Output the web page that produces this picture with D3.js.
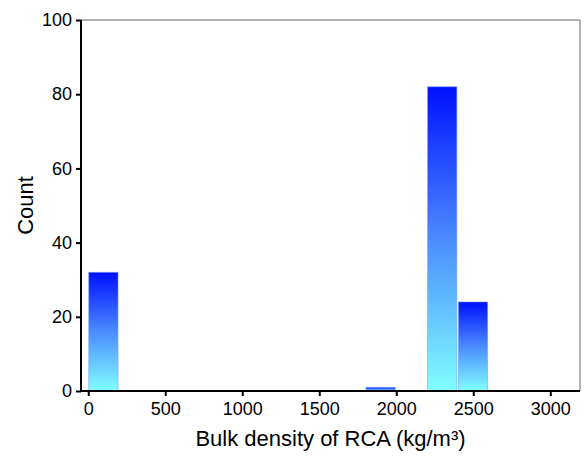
<!DOCTYPE html>
<html>
<head>
<meta charset="utf-8">
<script src="https://cdn.jsdelivr.net/npm/d3@7"></script>
<style>
  html, body { margin: 0; padding: 0; background: #fff; }
  svg { display: block; }
  text { font-family: "Liberation Sans", Arial, sans-serif; fill: #000; }
</style>
</head>
<body>
<svg id="chart" width="584" height="457"></svg>
<script>
// Histogram bins (kg/m³) and counts
const binStarts = [0, 1800, 2200, 2400];
const binEnds   = [200, 2000, 2400, 2600];
const counts    = [32, 1, 82, 24];

const xTicks = [0, 500, 1000, 1500, 2000, 2500, 3000];
const yTicks = [0, 20, 40, 60, 80, 100];

const svg = d3.select("#chart");
const margin = { left: 81, right: 4, top: 20, bottom: 66 };
const W = 584, H = 457;

const x = d3.scaleLinear().domain([-47, 3193]).range([margin.left, W - margin.right]);
const y = d3.scaleLinear().domain([0, 100]).range([H - margin.bottom, margin.top]);

const defs = svg.append("defs");
const grad = defs.append("linearGradient")
  .attr("id", "barFill")
  .attr("x1", 0).attr("y1", 0).attr("x2", 0).attr("y2", 1);
grad.append("stop").attr("offset", "0%").attr("stop-color", "#0010ff");
grad.append("stop").attr("offset", "50%").attr("stop-color", "#4a8cff");
grad.append("stop").attr("offset", "100%").attr("stop-color", "#80ffff");

// Frame: thin top/right borders
svg.append("path")
  .attr("d", `M${margin.left},${margin.top}H${W - margin.right}V${H - margin.bottom}`)
  .attr("fill", "none").attr("stroke", "#666").attr("stroke-width", 1);

// Bars
const bars = binStarts.map((s, i) => ({ s, e: binEnds[i], c: counts[i] }));
svg.append("g").selectAll("rect").data(bars).join("rect")
  .attr("x", d => x(d.s) + 0.5)
  .attr("y", d => y(d.c))
  .attr("width", d => x(d.e) - x(d.s) - 1.5)
  .attr("height", d => y(0) - y(d.c))
  .attr("fill", "url(#barFill)")
  .attr("stroke", "rgba(120,160,255,0.7)")
  .attr("stroke-width", 0.8);

// Axes
const xAxis = svg.append("g")
  .attr("transform", `translate(0,${H - margin.bottom})`)
  .call(d3.axisBottom(x).tickValues(xTicks).tickSize(5).tickPadding(6).tickFormat(d3.format("d")));
const yAxis = svg.append("g")
  .attr("transform", `translate(${margin.left},0)`)
  .call(d3.axisLeft(y).tickValues(yTicks).tickSize(5).tickPadding(4).tickFormat(d3.format("d")));

[xAxis, yAxis].forEach(g => {
  g.attr("font-size", 18);
  g.select(".domain").attr("stroke", "#000").attr("stroke-width", 2);
  g.selectAll(".tick line").attr("stroke", "#000").attr("stroke-width", 2);
  g.selectAll(".tick text").attr("fill", "#000");
});
xAxis.select(".domain").attr("d", `M${margin.left},0H${W - margin.right}`);
yAxis.select(".domain").attr("d", `M0,${H - margin.bottom}V${margin.top}`);

// Axis titles
svg.append("text")
  .attr("x", (margin.left + W - margin.right) / 2)
  .attr("y", 446)
  .attr("text-anchor", "middle")
  .attr("font-size", 22)
  .text("Bulk density of RCA (kg/m³)");

svg.append("text")
  .attr("transform", `translate(33,${(margin.top + H - margin.bottom) / 2}) rotate(-90)`)
  .attr("text-anchor", "middle")
  .attr("font-size", 22)
  .text("Count");
</script>
</body>
</html>
